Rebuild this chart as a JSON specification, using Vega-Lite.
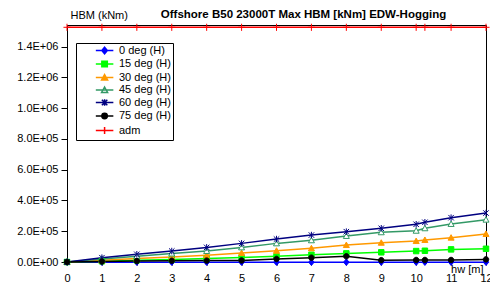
{
  "$schema": "https://vega.github.io/schema/vega-lite/v6.json",
  "width": 419,
  "height": 237,
  "autosize": "none",
  "padding": {"left": 67, "top": 25, "right": 4, "bottom": 23},
  "background": "white",
  "config": {
    "font": "Liberation Sans",
    "view": {"stroke": "#000", "strokeWidth": 1},
    "axis": {"labelFont": "Liberation Sans", "titleFont": "Liberation Sans", "labelColor": "#000", "titleColor": "#000", "domainColor": "#000", "tickColor": "#000", "grid": false, "labelFontSize": 11, "titleFontSize": 11, "titleFontWeight": "normal"},
    "legend": {"labelFont": "Liberation Sans", "labelFontSize": 11, "labelColor": "#000", "orient": "none", "legendX": 9, "legendY": 18, "fillColor": "#FFFFFF", "strokeColor": "#000", "padding": 2, "symbolSize": 30, "symbolStrokeWidth": 1.5, "symbolOpacity": 1, "labelOffset": 30, "rowPadding": 0.5,
      "labelExpr": "(datum.label == '0 deg (H)' ? '\u00a0\u00a0' : '') + datum.label + '\u00a0\u00a0\u00a0\u00a0\u00a0'"}
  },
  "title": {"text": "Offshore B50 23000T Max HBM [kNm] EDW-Hogging", "fontSize": 11.5, "fontWeight": "bold", "font": "Liberation Sans", "color": "#000", "anchor": "middle", "dx": 27, "dy": 17, "offset": 6},
  "data": {"values": [
    {"s":"0 deg (H)","x":0,"y":0},{"s":"0 deg (H)","x":1,"y":-1000},{"s":"0 deg (H)","x":2,"y":-1000},{"s":"0 deg (H)","x":3,"y":-1000},{"s":"0 deg (H)","x":4,"y":-1000},{"s":"0 deg (H)","x":5,"y":-1000},{"s":"0 deg (H)","x":6,"y":-1000},{"s":"0 deg (H)","x":7,"y":-1000},{"s":"0 deg (H)","x":8,"y":-1000},{"s":"0 deg (H)","x":9,"y":-1000},{"s":"0 deg (H)","x":10,"y":-1000},{"s":"0 deg (H)","x":10.25,"y":-1000},{"s":"0 deg (H)","x":11,"y":-1000},{"s":"0 deg (H)","x":12,"y":-1000},
    {"s":"15 deg (H)","x":0,"y":0},{"s":"15 deg (H)","x":1,"y":5000},{"s":"15 deg (H)","x":2,"y":11000},{"s":"15 deg (H)","x":3,"y":16000},{"s":"15 deg (H)","x":4,"y":22000},{"s":"15 deg (H)","x":5,"y":29000},{"s":"15 deg (H)","x":6,"y":37000},{"s":"15 deg (H)","x":7,"y":47000},{"s":"15 deg (H)","x":8,"y":56000},{"s":"15 deg (H)","x":9,"y":63000},{"s":"15 deg (H)","x":10,"y":71000},{"s":"15 deg (H)","x":10.25,"y":73000},{"s":"15 deg (H)","x":11,"y":82000},{"s":"15 deg (H)","x":12,"y":86000},
    {"s":"30 deg (H)","x":0,"y":0},{"s":"30 deg (H)","x":1,"y":11000},{"s":"30 deg (H)","x":2,"y":22000},{"s":"30 deg (H)","x":3,"y":33000},{"s":"30 deg (H)","x":4,"y":44000},{"s":"30 deg (H)","x":5,"y":58000},{"s":"30 deg (H)","x":6,"y":73000},{"s":"30 deg (H)","x":7,"y":89000},{"s":"30 deg (H)","x":8,"y":110000},{"s":"30 deg (H)","x":9,"y":125000},{"s":"30 deg (H)","x":10,"y":136000},{"s":"30 deg (H)","x":10.25,"y":143000},{"s":"30 deg (H)","x":11,"y":158000},{"s":"30 deg (H)","x":12,"y":182000},
    {"s":"45 deg (H)","x":0,"y":0},{"s":"45 deg (H)","x":1,"y":20000},{"s":"45 deg (H)","x":2,"y":38000},{"s":"45 deg (H)","x":3,"y":55000},{"s":"45 deg (H)","x":4,"y":71000},{"s":"45 deg (H)","x":5,"y":95000},{"s":"45 deg (H)","x":6,"y":121000},{"s":"45 deg (H)","x":7,"y":141000},{"s":"45 deg (H)","x":8,"y":169000},{"s":"45 deg (H)","x":9,"y":193000},{"s":"45 deg (H)","x":10,"y":203000},{"s":"45 deg (H)","x":10.25,"y":219000},{"s":"45 deg (H)","x":11,"y":247000},{"s":"45 deg (H)","x":12,"y":275000},
    {"s":"60 deg (H)","x":0,"y":0},{"s":"60 deg (H)","x":1,"y":28000},{"s":"60 deg (H)","x":2,"y":50000},{"s":"60 deg (H)","x":3,"y":71000},{"s":"60 deg (H)","x":4,"y":95000},{"s":"60 deg (H)","x":5,"y":121000},{"s":"60 deg (H)","x":6,"y":149000},{"s":"60 deg (H)","x":7,"y":175000},{"s":"60 deg (H)","x":8,"y":197000},{"s":"60 deg (H)","x":9,"y":219000},{"s":"60 deg (H)","x":10,"y":245000},{"s":"60 deg (H)","x":10.25,"y":258000},{"s":"60 deg (H)","x":11,"y":288000},{"s":"60 deg (H)","x":12,"y":318000},
    {"s":"75 deg (H)","x":0,"y":0},{"s":"75 deg (H)","x":1,"y":3000},{"s":"75 deg (H)","x":2,"y":6000},{"s":"75 deg (H)","x":3,"y":8000},{"s":"75 deg (H)","x":4,"y":9000},{"s":"75 deg (H)","x":5,"y":10000},{"s":"75 deg (H)","x":6,"y":20000},{"s":"75 deg (H)","x":7,"y":28000},{"s":"75 deg (H)","x":8,"y":37000},{"s":"75 deg (H)","x":9,"y":12000},{"s":"75 deg (H)","x":10,"y":13000},{"s":"75 deg (H)","x":10.25,"y":13000},{"s":"75 deg (H)","x":11,"y":13000},{"s":"75 deg (H)","x":12,"y":17000},
    {"s":"adm","x":0,"y":1525000},{"s":"adm","x":1,"y":1525000},{"s":"adm","x":2,"y":1525000},{"s":"adm","x":3,"y":1525000},{"s":"adm","x":4,"y":1525000},{"s":"adm","x":5,"y":1525000},{"s":"adm","x":6,"y":1525000},{"s":"adm","x":7,"y":1525000},{"s":"adm","x":8,"y":1525000},{"s":"adm","x":9,"y":1525000},{"s":"adm","x":10,"y":1525000},{"s":"adm","x":10.25,"y":1525000},{"s":"adm","x":11,"y":1525000},{"s":"adm","x":12,"y":1525000}
  ]},
  "encoding": {
    "x": {"field": "x", "type": "quantitative", "scale": {"domain": [0, 12], "nice": false, "zero": false},
      "axis": {"values": [0,1,2,3,4,5,6,7,8,9,10,11,12], "format": "d", "tickSize": 3, "labelPadding": 7, "labelFlush": false, "labelOverlap": false, "title": "hw [m]", "titleX": 416, "titleY": 1, "titleAlign": "right", "titleBaseline": "top", "titleAnchor": "end"}},
    "y": {"field": "y", "type": "quantitative", "scale": {"domain": [0, 1540000], "nice": false},
      "axis": {"values": [0,200000,400000,600000,800000,1000000,1200000,1400000], "labelExpr": "replace(format(datum.value, '.1e'), 'e+', 'E+0')", "tickSize": 6, "labelPadding": 3, "labelFlush": false, "title": "HBM (kNm)", "titleAngle": 0, "titleX": 3, "titleY": -10, "titleAlign": "left", "titleBaseline": "middle"}}
  },
  "layer": [
    {"mark": {"type": "line", "strokeWidth": 1.5},
     "encoding": {"stroke": {"field": "s", "type": "nominal", "legend": null,
       "scale": {"domain": ["0 deg (H)","15 deg (H)","30 deg (H)","45 deg (H)","60 deg (H)","75 deg (H)","adm"], "range": ["#0000FF","#00FF00","#FF9900","#339966","#000080","#000000","#FF0000"]}}}},
    {"mark": {"type": "point", "filled": true, "opacity": 1, "strokeWidth": 1, "size": 30},
     "encoding": {
       "stroke": {"field": "s", "type": "nominal", "legend": null,
         "scale": {"domain": ["0 deg (H)","15 deg (H)","30 deg (H)","45 deg (H)","60 deg (H)","75 deg (H)","adm"], "range": ["#0000FF","#00FF00","#FF9900","#339966","#000080","#000000","#FF0000"]}},
       "fill": {"field": "s", "type": "nominal", "legend": null,
         "scale": {"domain": ["0 deg (H)","15 deg (H)","30 deg (H)","45 deg (H)","60 deg (H)","75 deg (H)","adm"], "range": ["#0000FF","#00FF00","#FF9900","#FFFFFF","#000080","#000000","#FF0000"]}},
       "shape": {"field": "s", "type": "nominal", "legend": null,
         "scale": {"domain": ["0 deg (H)","15 deg (H)","30 deg (H)","45 deg (H)","60 deg (H)","75 deg (H)","adm"], "range": [
           "M0,-1.2L1,0L0,1.2L-1,0Z",
           "M-1,-1H1V1H-1Z",
           "M0,-1.1L1.1,0.9H-1.1Z",
           "M0,-1.1L1.1,0.9H-1.1Z",
           "M-1,-1L1,1M-1,1L1,-1M0,-1.2V1.2",
           "M-1,0A1,1 0 1,1 1,0A1,1 0 1,1 -1,0Z",
           "M-1.3,0H1.3M0,-1.3V1.3"]}}}},
    {"mark": {"type": "point", "filled": true, "opacity": 0, "strokeWidth": 1.5, "size": 30},
     "encoding": {
       "stroke": {"field": "s", "type": "nominal", "legend": {"title": null},
         "scale": {"domain": ["0 deg (H)","15 deg (H)","30 deg (H)","45 deg (H)","60 deg (H)","75 deg (H)","adm"], "range": ["#0000FF","#00FF00","#FF9900","#339966","#000080","#000000","#FF0000"]}},
       "fill": {"field": "s", "type": "nominal", "legend": {"title": null},
         "scale": {"domain": ["0 deg (H)","15 deg (H)","30 deg (H)","45 deg (H)","60 deg (H)","75 deg (H)","adm"], "range": ["#0000FF","#00FF00","#FF9900","#FFFFFF","#000080","#000000","#FF0000"]}},
       "shape": {"field": "s", "type": "nominal", "legend": {"title": null},
         "scale": {"domain": ["0 deg (H)","15 deg (H)","30 deg (H)","45 deg (H)","60 deg (H)","75 deg (H)","adm"], "range": [
           "M4.5,0H10.9M7.7,-1.2L8.7,0L7.7,1.2L6.7,0Z",
           "M4.5,0H10.9M6.7,-1H8.7V1H6.7Z",
           "M4.5,0H10.9M7.7,-1.1L8.8,0.9H6.6Z",
           "M4.5,0H10.9M7.7,-1.1L8.8,0.9H6.6Z",
           "M4.5,0H10.9M6.7,-1L8.7,1M6.7,1L8.7,-1M7.7,-1.2V1.2",
           "M4.5,0H10.9M6.7,0A1,1 0 1,1 8.7,0A1,1 0 1,1 6.7,0Z",
           "M4.5,0H10.9M6.4,0H9M7.7,-1.3V1.3"]}}}}
  ],
  "resolve": {"scale": {"shape": "independent", "stroke": "independent", "fill": "independent"}}
}
